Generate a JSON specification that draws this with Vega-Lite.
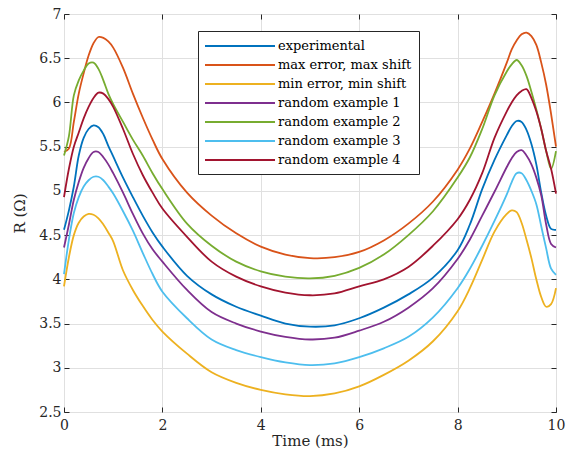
{
 "$schema": "https://vega.github.io/schema/vega-lite/v6.json",
 "width": 492, "height": 398,
 "autosize": {"type": "none"},
 "padding": {"left": 64, "top": 14, "right": 17, "bottom": 43},
 "background": "white",
 "config": {
  "font": "DejaVu Serif",
  "view": {"stroke": "#262626", "strokeWidth": 1},
  "axis": {"labelFont": "DejaVu Serif", "titleFont": "DejaVu Serif", "labelFontSize": 14, "titleFontSize": 14, "labelColor": "#262626", "titleColor": "#262626", "titleFontWeight": "normal", "gridColor": "#e0e0e0", "gridWidth": 1, "tickColor": "#262626", "domain": false, "tickSize": -5, "labelFlush": false}
 },
 "data": {"values": [
{"s":"experimental","t":0,"R":4.56},{"s":"experimental","t":0.1,"R":4.78},{"s":"experimental","t":0.2,"R":5.05},{"s":"experimental","t":0.3,"R":5.4},{"s":"experimental","t":0.4,"R":5.6},{"s":"experimental","t":0.5,"R":5.7},{"s":"experimental","t":0.6,"R":5.74},{"s":"experimental","t":0.7,"R":5.72},{"s":"experimental","t":0.8,"R":5.64},{"s":"experimental","t":0.9,"R":5.51},{"s":"experimental","t":1.0,"R":5.39},{"s":"experimental","t":1.2,"R":5.15},{"s":"experimental","t":1.4,"R":4.93},{"s":"experimental","t":1.6,"R":4.72},{"s":"experimental","t":1.8,"R":4.53},{"s":"experimental","t":2.0,"R":4.37},{"s":"experimental","t":2.5,"R":4.04},{"s":"experimental","t":3.0,"R":3.83},{"s":"experimental","t":3.5,"R":3.69},{"s":"experimental","t":4.0,"R":3.59},{"s":"experimental","t":4.5,"R":3.5},{"s":"experimental","t":5.0,"R":3.465},{"s":"experimental","t":5.5,"R":3.48},{"s":"experimental","t":6.0,"R":3.56},{"s":"experimental","t":6.5,"R":3.68},{"s":"experimental","t":7.0,"R":3.83},{"s":"experimental","t":7.5,"R":4.02},{"s":"experimental","t":8.0,"R":4.33},{"s":"experimental","t":8.25,"R":4.62},{"s":"experimental","t":8.5,"R":5.02},{"s":"experimental","t":8.75,"R":5.35},{"s":"experimental","t":9.0,"R":5.63},{"s":"experimental","t":9.1,"R":5.73},{"s":"experimental","t":9.2,"R":5.79},{"s":"experimental","t":9.3,"R":5.78},{"s":"experimental","t":9.4,"R":5.69},{"s":"experimental","t":9.5,"R":5.53},{"s":"experimental","t":9.6,"R":5.3},{"s":"experimental","t":9.7,"R":4.98},{"s":"experimental","t":9.8,"R":4.72},{"s":"experimental","t":9.9,"R":4.57},{"s":"experimental","t":10,"R":4.56},
{"s":"max error, max shift","t":0,"R":5.44},{"s":"max error, max shift","t":0.1,"R":5.48},{"s":"max error, max shift","t":0.2,"R":5.78},{"s":"max error, max shift","t":0.3,"R":6.1},{"s":"max error, max shift","t":0.4,"R":6.33},{"s":"max error, max shift","t":0.5,"R":6.53},{"s":"max error, max shift","t":0.6,"R":6.67},{"s":"max error, max shift","t":0.7,"R":6.74},{"s":"max error, max shift","t":0.8,"R":6.73},{"s":"max error, max shift","t":0.9,"R":6.69},{"s":"max error, max shift","t":1.0,"R":6.62},{"s":"max error, max shift","t":1.2,"R":6.39},{"s":"max error, max shift","t":1.4,"R":6.1},{"s":"max error, max shift","t":1.6,"R":5.83},{"s":"max error, max shift","t":1.8,"R":5.58},{"s":"max error, max shift","t":2.0,"R":5.36},{"s":"max error, max shift","t":2.5,"R":4.98},{"s":"max error, max shift","t":3.0,"R":4.72},{"s":"max error, max shift","t":3.5,"R":4.52},{"s":"max error, max shift","t":4.0,"R":4.37},{"s":"max error, max shift","t":4.5,"R":4.28},{"s":"max error, max shift","t":5.0,"R":4.24},{"s":"max error, max shift","t":5.5,"R":4.25},{"s":"max error, max shift","t":6.0,"R":4.31},{"s":"max error, max shift","t":6.5,"R":4.44},{"s":"max error, max shift","t":7.0,"R":4.63},{"s":"max error, max shift","t":7.5,"R":4.88},{"s":"max error, max shift","t":8.0,"R":5.24},{"s":"max error, max shift","t":8.25,"R":5.48},{"s":"max error, max shift","t":8.5,"R":5.78},{"s":"max error, max shift","t":8.75,"R":6.1},{"s":"max error, max shift","t":9.0,"R":6.45},{"s":"max error, max shift","t":9.1,"R":6.6},{"s":"max error, max shift","t":9.2,"R":6.7},{"s":"max error, max shift","t":9.3,"R":6.77},{"s":"max error, max shift","t":9.4,"R":6.79},{"s":"max error, max shift","t":9.5,"R":6.75},{"s":"max error, max shift","t":9.6,"R":6.65},{"s":"max error, max shift","t":9.7,"R":6.45},{"s":"max error, max shift","t":9.8,"R":6.2},{"s":"max error, max shift","t":9.9,"R":5.87},{"s":"max error, max shift","t":10,"R":5.5},
{"s":"min error, min shift","t":0,"R":3.92},{"s":"min error, min shift","t":0.1,"R":4.25},{"s":"min error, min shift","t":0.2,"R":4.5},{"s":"min error, min shift","t":0.3,"R":4.64},{"s":"min error, min shift","t":0.4,"R":4.71},{"s":"min error, min shift","t":0.5,"R":4.74},{"s":"min error, min shift","t":0.6,"R":4.73},{"s":"min error, min shift","t":0.7,"R":4.69},{"s":"min error, min shift","t":0.8,"R":4.62},{"s":"min error, min shift","t":0.9,"R":4.53},{"s":"min error, min shift","t":1.0,"R":4.43},{"s":"min error, min shift","t":1.2,"R":4.1},{"s":"min error, min shift","t":1.4,"R":3.88},{"s":"min error, min shift","t":1.6,"R":3.7},{"s":"min error, min shift","t":1.8,"R":3.54},{"s":"min error, min shift","t":2.0,"R":3.41},{"s":"min error, min shift","t":2.5,"R":3.16},{"s":"min error, min shift","t":3.0,"R":2.95},{"s":"min error, min shift","t":3.5,"R":2.83},{"s":"min error, min shift","t":4.0,"R":2.75},{"s":"min error, min shift","t":4.5,"R":2.7},{"s":"min error, min shift","t":5.0,"R":2.68},{"s":"min error, min shift","t":5.5,"R":2.71},{"s":"min error, min shift","t":6.0,"R":2.79},{"s":"min error, min shift","t":6.5,"R":2.92},{"s":"min error, min shift","t":7.0,"R":3.08},{"s":"min error, min shift","t":7.5,"R":3.3},{"s":"min error, min shift","t":8.0,"R":3.64},{"s":"min error, min shift","t":8.25,"R":3.9},{"s":"min error, min shift","t":8.5,"R":4.22},{"s":"min error, min shift","t":8.75,"R":4.54},{"s":"min error, min shift","t":9.0,"R":4.74},{"s":"min error, min shift","t":9.1,"R":4.78},{"s":"min error, min shift","t":9.2,"R":4.76},{"s":"min error, min shift","t":9.3,"R":4.64},{"s":"min error, min shift","t":9.4,"R":4.45},{"s":"min error, min shift","t":9.5,"R":4.24},{"s":"min error, min shift","t":9.6,"R":4.0},{"s":"min error, min shift","t":9.7,"R":3.8},{"s":"min error, min shift","t":9.8,"R":3.69},{"s":"min error, min shift","t":9.9,"R":3.72},{"s":"min error, min shift","t":10,"R":3.9},
{"s":"random example 1","t":0,"R":4.36},{"s":"random example 1","t":0.1,"R":4.62},{"s":"random example 1","t":0.2,"R":4.9},{"s":"random example 1","t":0.3,"R":5.1},{"s":"random example 1","t":0.4,"R":5.26},{"s":"random example 1","t":0.5,"R":5.37},{"s":"random example 1","t":0.6,"R":5.44},{"s":"random example 1","t":0.7,"R":5.44},{"s":"random example 1","t":0.8,"R":5.38},{"s":"random example 1","t":0.9,"R":5.3},{"s":"random example 1","t":1.0,"R":5.2},{"s":"random example 1","t":1.2,"R":4.98},{"s":"random example 1","t":1.4,"R":4.74},{"s":"random example 1","t":1.6,"R":4.52},{"s":"random example 1","t":1.8,"R":4.34},{"s":"random example 1","t":2.0,"R":4.2},{"s":"random example 1","t":2.5,"R":3.88},{"s":"random example 1","t":3.0,"R":3.63},{"s":"random example 1","t":3.5,"R":3.5},{"s":"random example 1","t":4.0,"R":3.41},{"s":"random example 1","t":4.5,"R":3.35},{"s":"random example 1","t":5.0,"R":3.32},{"s":"random example 1","t":5.5,"R":3.34},{"s":"random example 1","t":6.0,"R":3.42},{"s":"random example 1","t":6.5,"R":3.52},{"s":"random example 1","t":7.0,"R":3.68},{"s":"random example 1","t":7.5,"R":3.9},{"s":"random example 1","t":8.0,"R":4.23},{"s":"random example 1","t":8.25,"R":4.45},{"s":"random example 1","t":8.5,"R":4.72},{"s":"random example 1","t":8.75,"R":4.99},{"s":"random example 1","t":9.0,"R":5.27},{"s":"random example 1","t":9.1,"R":5.37},{"s":"random example 1","t":9.2,"R":5.44},{"s":"random example 1","t":9.3,"R":5.46},{"s":"random example 1","t":9.4,"R":5.4},{"s":"random example 1","t":9.5,"R":5.3},{"s":"random example 1","t":9.6,"R":5.15},{"s":"random example 1","t":9.7,"R":4.95},{"s":"random example 1","t":9.8,"R":4.62},{"s":"random example 1","t":9.9,"R":4.4},{"s":"random example 1","t":10,"R":4.36},
{"s":"random example 2","t":0,"R":5.4},{"s":"random example 2","t":0.1,"R":5.62},{"s":"random example 2","t":0.2,"R":6.08},{"s":"random example 2","t":0.3,"R":6.25},{"s":"random example 2","t":0.4,"R":6.36},{"s":"random example 2","t":0.5,"R":6.44},{"s":"random example 2","t":0.6,"R":6.45},{"s":"random example 2","t":0.7,"R":6.38},{"s":"random example 2","t":0.8,"R":6.25},{"s":"random example 2","t":0.9,"R":6.1},{"s":"random example 2","t":1.0,"R":5.98},{"s":"random example 2","t":1.2,"R":5.78},{"s":"random example 2","t":1.4,"R":5.58},{"s":"random example 2","t":1.6,"R":5.4},{"s":"random example 2","t":1.8,"R":5.2},{"s":"random example 2","t":2.0,"R":5.02},{"s":"random example 2","t":2.5,"R":4.63},{"s":"random example 2","t":3.0,"R":4.38},{"s":"random example 2","t":3.5,"R":4.2},{"s":"random example 2","t":4.0,"R":4.09},{"s":"random example 2","t":4.5,"R":4.03},{"s":"random example 2","t":5.0,"R":4.01},{"s":"random example 2","t":5.5,"R":4.04},{"s":"random example 2","t":6.0,"R":4.13},{"s":"random example 2","t":6.5,"R":4.28},{"s":"random example 2","t":7.0,"R":4.5},{"s":"random example 2","t":7.5,"R":4.77},{"s":"random example 2","t":8.0,"R":5.15},{"s":"random example 2","t":8.25,"R":5.38},{"s":"random example 2","t":8.5,"R":5.7},{"s":"random example 2","t":8.75,"R":6.08},{"s":"random example 2","t":9.0,"R":6.35},{"s":"random example 2","t":9.1,"R":6.43},{"s":"random example 2","t":9.2,"R":6.48},{"s":"random example 2","t":9.3,"R":6.42},{"s":"random example 2","t":9.4,"R":6.3},{"s":"random example 2","t":9.5,"R":6.12},{"s":"random example 2","t":9.6,"R":5.92},{"s":"random example 2","t":9.7,"R":5.7},{"s":"random example 2","t":9.8,"R":5.45},{"s":"random example 2","t":9.9,"R":5.25},{"s":"random example 2","t":10,"R":5.45},
{"s":"random example 3","t":0,"R":4.06},{"s":"random example 3","t":0.1,"R":4.45},{"s":"random example 3","t":0.2,"R":4.75},{"s":"random example 3","t":0.3,"R":4.93},{"s":"random example 3","t":0.4,"R":5.05},{"s":"random example 3","t":0.5,"R":5.12},{"s":"random example 3","t":0.6,"R":5.16},{"s":"random example 3","t":0.7,"R":5.16},{"s":"random example 3","t":0.8,"R":5.12},{"s":"random example 3","t":0.9,"R":5.05},{"s":"random example 3","t":1.0,"R":4.97},{"s":"random example 3","t":1.2,"R":4.77},{"s":"random example 3","t":1.4,"R":4.55},{"s":"random example 3","t":1.6,"R":4.3},{"s":"random example 3","t":1.8,"R":4.06},{"s":"random example 3","t":2.0,"R":3.86},{"s":"random example 3","t":2.5,"R":3.56},{"s":"random example 3","t":3.0,"R":3.32},{"s":"random example 3","t":3.5,"R":3.2},{"s":"random example 3","t":4.0,"R":3.12},{"s":"random example 3","t":4.5,"R":3.06},{"s":"random example 3","t":5.0,"R":3.03},{"s":"random example 3","t":5.5,"R":3.05},{"s":"random example 3","t":6.0,"R":3.12},{"s":"random example 3","t":6.5,"R":3.22},{"s":"random example 3","t":7.0,"R":3.35},{"s":"random example 3","t":7.5,"R":3.57},{"s":"random example 3","t":8.0,"R":3.9},{"s":"random example 3","t":8.25,"R":4.12},{"s":"random example 3","t":8.5,"R":4.38},{"s":"random example 3","t":8.75,"R":4.66},{"s":"random example 3","t":9.0,"R":4.96},{"s":"random example 3","t":9.1,"R":5.1},{"s":"random example 3","t":9.2,"R":5.2},{"s":"random example 3","t":9.3,"R":5.2},{"s":"random example 3","t":9.4,"R":5.12},{"s":"random example 3","t":9.5,"R":5.0},{"s":"random example 3","t":9.6,"R":4.85},{"s":"random example 3","t":9.7,"R":4.6},{"s":"random example 3","t":9.8,"R":4.35},{"s":"random example 3","t":9.9,"R":4.12},{"s":"random example 3","t":10,"R":4.05},
{"s":"random example 4","t":0,"R":4.93},{"s":"random example 4","t":0.1,"R":5.25},{"s":"random example 4","t":0.2,"R":5.5},{"s":"random example 4","t":0.3,"R":5.66},{"s":"random example 4","t":0.4,"R":5.82},{"s":"random example 4","t":0.5,"R":5.95},{"s":"random example 4","t":0.6,"R":6.05},{"s":"random example 4","t":0.7,"R":6.11},{"s":"random example 4","t":0.8,"R":6.1},{"s":"random example 4","t":0.9,"R":6.04},{"s":"random example 4","t":1.0,"R":5.95},{"s":"random example 4","t":1.2,"R":5.7},{"s":"random example 4","t":1.4,"R":5.42},{"s":"random example 4","t":1.6,"R":5.18},{"s":"random example 4","t":1.8,"R":4.98},{"s":"random example 4","t":2.0,"R":4.8},{"s":"random example 4","t":2.5,"R":4.48},{"s":"random example 4","t":3.0,"R":4.2},{"s":"random example 4","t":3.5,"R":4.03},{"s":"random example 4","t":4.0,"R":3.92},{"s":"random example 4","t":4.5,"R":3.85},{"s":"random example 4","t":5.0,"R":3.82},{"s":"random example 4","t":5.5,"R":3.84},{"s":"random example 4","t":6.0,"R":3.92},{"s":"random example 4","t":6.5,"R":4.0},{"s":"random example 4","t":7.0,"R":4.14},{"s":"random example 4","t":7.5,"R":4.38},{"s":"random example 4","t":8.0,"R":4.68},{"s":"random example 4","t":8.25,"R":4.9},{"s":"random example 4","t":8.5,"R":5.2},{"s":"random example 4","t":8.75,"R":5.6},{"s":"random example 4","t":9.0,"R":5.9},{"s":"random example 4","t":9.1,"R":6.0},{"s":"random example 4","t":9.2,"R":6.08},{"s":"random example 4","t":9.3,"R":6.13},{"s":"random example 4","t":9.4,"R":6.15},{"s":"random example 4","t":9.5,"R":6.05},{"s":"random example 4","t":9.6,"R":5.9},{"s":"random example 4","t":9.7,"R":5.7},{"s":"random example 4","t":9.8,"R":5.45},{"s":"random example 4","t":9.9,"R":5.25},{"s":"random example 4","t":10,"R":4.97}
 ]},
 "layer": [
  {
   "mark": {"type": "line", "interpolate": "catmull-rom"},
   "encoding": {
    "x": {"field": "t", "type": "quantitative", "scale": {"domain": [0, 10], "nice": false}, "axis": {"values": [0, 2, 4, 6, 8, 10], "title": "Time (ms)", "titleFontSize": 15, "labelPadding": 11, "titlePadding": 1}},
    "y": {"field": "R", "type": "quantitative", "scale": {"domain": [2.5, 7], "nice": false, "zero": false}, "axis": {"values": [2.5, 3, 3.5, 4, 4.5, 5, 5.5, 6, 6.5, 7], "format": "~g", "title": "R (Ω)", "titleFontSize": 15, "labelPadding": 8, "titlePadding": 11}},
    "color": {"field": "s", "type": "nominal",
     "scale": {"domain": ["experimental", "max error, max shift", "min error, min shift", "random example 1", "random example 2", "random example 3", "random example 4"], "range": ["#0072BD", "#D95319", "#EDB120", "#7E2F8E", "#77AC30", "#4DBEEE", "#A2142F"]},
     "legend": {"orient": "none", "legendX": 134, "legendY": 17, "title": null, "symbolType": "M-5,0H5", "symbolSize": 196, "symbolStrokeWidth": 2, "symbolOffset": 27, "labelOffset": 30, "padding": 7, "rowPadding": 4, "strokeColor": "#262626", "fillColor": "white", "labelFontSize": 13, "labelFont": "DejaVu Serif", "labelColor": "#000000"}},
    "strokeWidth": {"field": "s", "type": "nominal", "scale": {"domain": ["experimental", "max error, max shift", "min error, min shift", "random example 1", "random example 2", "random example 3", "random example 4"], "range": [1.8, 1.8, 1.8, 2.8, 2.8, 2.8, 2.8]}, "legend": null}
   }
  },
  {
   "mark": {"type": "line", "opacity": 0},
   "encoding": {
    "x": {"field": "t", "type": "quantitative", "axis": {"orient": "top", "values": [0, 2, 4, 6, 8, 10], "labels": false, "grid": false, "title": null}},
    "y": {"field": "R", "type": "quantitative", "axis": {"orient": "right", "values": [2.5, 3, 3.5, 4, 4.5, 5, 5.5, 6, 6.5, 7], "labels": false, "grid": false, "title": null}},
    "detail": {"field": "s"}
   }
  }
 ],
 "resolve": {"axis": {"x": "independent", "y": "independent"}}
}
